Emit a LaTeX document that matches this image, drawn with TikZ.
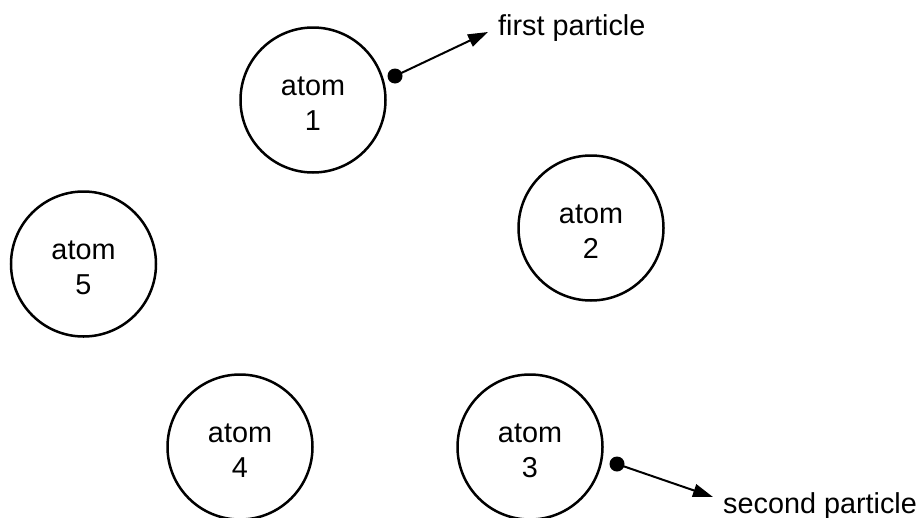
\documentclass[tikz,border=0pt]{standalone}
\usepackage{fontspec}
\setmainfont{Liberation Sans}
\usetikzlibrary{arrows.meta}
\begin{document}
\begin{tikzpicture}[x=1pt,y=-1pt,
  atom/.style={circle,draw,line width=2.5pt,minimum size=145pt,inner sep=0pt},
  atomtxt/.style={align=center,inner sep=0pt,font=\fontsize{28.8}{35}\selectfont},
  particle/.style={circle,fill,minimum size=15pt,inner sep=0pt},
  move/.style={line width=2pt,-{Triangle[length=20pt,width=13pt]}},
  lbl/.style={anchor=base west,inner sep=0pt,font=\fontsize{28.8}{35}\selectfont}]
\useasboundingbox (0,0) rectangle (921,517);
\node[atom] (a1) at (313,100) {};
\node[atom] (a2) at (591,228) {};
\node[atom] (a3) at (530,447) {};
\node[atom] (a4) at (240,447) {};
\node[atom] (a5) at (83.5,264) {};
\node[atomtxt] (l1) at ([yshift=-4pt]a1.center) {atom\\1};
\node[atomtxt] (l2) at ([yshift=-4pt]a2.center) {atom\\2};
\node[atomtxt] (l3) at ([yshift=-4pt]a3.center) {atom\\3};
\node[atomtxt] (l4) at ([yshift=-4pt]a4.center) {atom\\4};
\node[atomtxt] (l5) at ([yshift=-4pt]a5.center) {atom\\5};
\node[particle] (p1) at (395,76) {};
\coordinate (e1) at (488,32);
\node[lbl] (t1) at (498,35) {first particle};
\draw[move] (p1.center) -- (e1);
\node[particle] (p2) at (617,464) {};
\coordinate (e2) at (713,497);
\node[lbl] (t2) at (723,513) {second particle};
\draw[move] (p2.center) -- (e2);
\end{tikzpicture}
\end{document}
